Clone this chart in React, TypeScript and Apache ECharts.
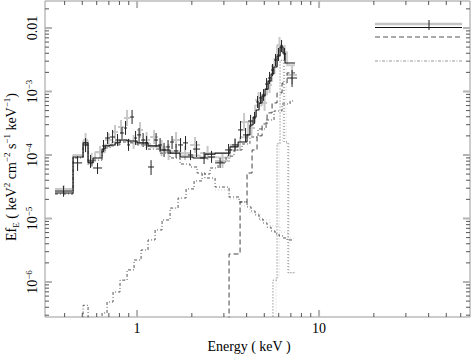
import React, { useEffect, useRef } from "react";
import * as echarts from "echarts";

const FONT = "'Liberation Serif', 'Times New Roman', serif";

// Axis ranges: Energy (keV), EfE (keV^2 cm^-2 s^-1 keV^-1)
const xRange = [0.312, 67.5];
const yRange = [2.81e-7, 2.66e-2];

// Tick values
const xMajorTicks = [1, 10];
const xMinorTicks = [0.4, 0.5, 0.6, 0.7, 0.8, 0.9, 2, 3, 4, 5, 6, 7, 8, 9, 20, 30, 40, 50, 60];
const yMajorTicks = [1e-6, 1e-5, 1e-4, 1e-3, 1e-2];
const yMinorTicks = [
  3e-7, 4e-7, 5e-7, 6e-7, 7e-7, 8e-7, 9e-7,
  2e-6, 3e-6, 4e-6, 5e-6, 6e-6, 7e-6, 8e-6, 9e-6,
  2e-5, 3e-5, 4e-5, 5e-5, 6e-5, 7e-5, 8e-5, 9e-5,
  2e-4, 3e-4, 4e-4, 5e-4, 6e-4, 7e-4, 8e-4, 9e-4,
  2e-3, 3e-3, 4e-3, 5e-3, 6e-3, 7e-3, 8e-3, 9e-3,
  2e-2,
];
const xLabelValues = [1, 10];
const xLabelTexts = ["1", "10"];
const yLabelValues = [1e-2, 1e-3, 1e-4, 1e-5, 1e-6];
const yLabelBases = ["0.01", "10", "10", "10", "10"];
const yLabelExps = ["", "−3", "−4", "−5", "−6"];

// Data rows: [E_lo, E_hi, flux, flux_lo, flux_hi]
const blackData = [
  [0.354, 0.440, 2.7e-5, 2.2e-5, 3.25e-5],
  [0.445, 0.499, 7.5e-5, 5.6e-5, 9.6e-5],
  [0.505, 0.538, 1.44e-4, 1.11e-4, 1.85e-4],
  [0.538, 0.573, 8.05e-5, 6.24e-5, 1.0e-4],
  [0.573, 0.642, 6.24e-5, 5.02e-5, 7.5e-5],
  [0.642, 0.667, 1.39e-4, 1.11e-4, 1.72e-4],
  [0.667, 0.711, 1.85e-4, 1.49e-4, 2.30e-4],
  [0.711, 0.757, 1.92e-4, 1.55e-4, 2.48e-4],
  [0.757, 0.806, 1.72e-4, 1.39e-4, 2.14e-4],
  [0.806, 0.848, 2.22e-4, 1.79e-4, 2.76e-4],
  [0.848, 0.881, 2.66e-4, 2.07e-4, 3.43e-4],
  [0.881, 0.915, 1.44e-4, 1.16e-4, 1.79e-4],
  [0.915, 0.963, 3.96e-4, 3.08e-4, 5.12e-4],
  [0.963, 1.0, 1.85e-4, 1.44e-4, 2.39e-4],
  [1.0, 1.052, 2.07e-4, 1.60e-4, 2.66e-4],
  [1.052, 1.107, 1.72e-4, 1.34e-4, 2.22e-4],
  [1.107, 1.149, 1.55e-4, 1.20e-4, 1.99e-4],
  [1.149, 1.240, 6.47e-5, 4.84e-5, 8.3e-5],
  [1.240, 1.305, 1.72e-4, 1.34e-4, 2.22e-4],
  [1.305, 1.372, 1.44e-4, 1.11e-4, 1.85e-4],
  [1.372, 1.443, 1.20e-4, 9.3e-5, 1.55e-4],
  [1.443, 1.518, 1.34e-4, 1.04e-4, 1.72e-4],
  [1.518, 1.597, 1.60e-4, 1.24e-4, 1.99e-4],
  [1.597, 1.680, 1.16e-4, 9.0e-5, 1.49e-4],
  [1.680, 1.789, 1.44e-4, 1.11e-4, 1.85e-4],
  [1.789, 1.906, 1.55e-4, 1.20e-4, 1.99e-4],
  [1.906, 2.031, 1.0e-4, 8.3e-5, 1.20e-4],
  [2.031, 2.219, 1.24e-4, 9.3e-5, 1.66e-4],
  [2.219, 2.455, 8.97e-5, 7.2e-5, 1.11e-4],
  [2.455, 2.683, 9.3e-5, 7.5e-5, 1.16e-4],
  [2.683, 3.045, 7.5e-5, 6.24e-5, 9.0e-5],
  [3.045, 3.327, 1.20e-4, 9.6e-5, 1.49e-4],
  [3.327, 3.588, 1.44e-4, 1.16e-4, 1.79e-4],
  [3.588, 3.823, 2.48e-4, 1.79e-4, 3.43e-4],
  [3.823, 4.074, 2.07e-4, 1.60e-4, 2.66e-4],
  [4.074, 4.339, 3.43e-4, 2.76e-4, 4.27e-4],
  [4.339, 4.507, 3.83e-4, 3.08e-4, 4.75e-4],
  [4.507, 4.681, 6.84e-4, 5.50e-4, 8.5e-4],
  [4.681, 4.863, 7.91e-4, 6.36e-4, 9.82e-4],
  [4.863, 5.050, 8.81e-4, 7.09e-4, 1.09e-3],
  [5.050, 5.246, 1.31e-3, 1.06e-3, 1.63e-3],
  [5.246, 5.448, 1.63e-3, 1.31e-3, 2.03e-3],
  [5.448, 5.657, 2.18e-3, 1.75e-3, 2.71e-3],
  [5.657, 5.876, 3.13e-3, 2.52e-3, 3.90e-3],
  [5.876, 6.105, 3.76e-3, 3.02e-3, 4.84e-3],
  [6.105, 6.341, 5.21e-3, 4.19e-3, 6.47e-3],
  [6.341, 6.588, 3.90e-3, 3.13e-3, 4.84e-3],
  [6.672, 7.570, 1.63e-3, 1.18e-3, 2.18e-3],
];

const greyData = [
  [0.354, 0.440, 2.92e-5, 2.52e-5, 3.37e-5],
  [0.505, 0.538, 1.72e-4, 1.34e-4, 2.22e-4],
  [0.538, 0.588, 8.3e-5, 6.47e-5, 1.07e-4],
  [0.588, 0.667, 1.11e-4, 8.97e-5, 1.39e-4],
  [0.667, 0.729, 1.72e-4, 1.34e-4, 2.22e-4],
  [0.729, 0.786, 2.30e-4, 1.79e-4, 2.97e-4],
  [0.786, 0.848, 2.76e-4, 2.14e-4, 3.56e-4],
  [0.848, 0.915, 3.83e-4, 2.86e-4, 5.12e-4],
  [0.915, 1.0, 1.60e-4, 1.24e-4, 2.07e-4],
  [1.0, 1.079, 2.48e-4, 1.85e-4, 3.31e-4],
  [1.079, 1.179, 1.72e-4, 1.29e-4, 2.30e-4],
  [1.179, 1.305, 1.92e-4, 1.49e-4, 2.48e-4],
  [1.305, 1.425, 1.29e-4, 9.6e-5, 1.72e-4],
  [1.425, 1.557, 1.11e-4, 8.3e-5, 1.49e-4],
  [1.557, 1.723, 1.72e-4, 1.29e-4, 2.30e-4],
  [1.723, 1.955, 1.07e-4, 8.3e-5, 1.39e-4],
  [1.955, 2.219, 1.44e-4, 1.07e-4, 1.92e-4],
  [2.219, 2.683, 1.07e-4, 8.3e-5, 1.39e-4],
  [2.683, 3.24, 8.05e-5, 6.24e-5, 1.04e-4],
  [3.24, 3.681, 1.44e-4, 1.11e-4, 1.85e-4],
  [3.681, 4.074, 3.31e-4, 2.39e-4, 4.59e-4],
  [4.074, 4.45, 2.66e-4, 2.0e-4, 3.56e-4],
  [4.45, 4.863, 7.3e-4, 5.5e-4, 9.8e-4],
  [4.863, 5.18, 6.6e-4, 4.93e-4, 8.8e-4],
  [5.18, 5.518, 1.27e-3, 9.46e-4, 1.69e-3],
  [5.518, 5.876, 2.52e-3, 1.89e-3, 3.37e-3],
  [5.876, 6.261, 5.40e-3, 4.04e-3, 7.21e-3],
  [6.261, 6.672, 4.04e-3, 3.02e-3, 5.40e-3],
  [6.672, 7.57, 1.82e-3, 1.31e-3, 2.52e-3],
];

// Total model (black dataset): bin edges and values
const blackModelEdges = [0.354, 0.445, 0.505, 0.538, 0.573, 0.642, 0.667, 0.711, 0.757, 0.806, 0.881, 1.0, 1.149, 1.338, 1.518, 1.723, 2.031, 2.36, 2.683, 3.24, 3.59, 4.02, 4.17, 4.34, 4.51, 4.68, 4.86, 5.05, 5.25, 5.45, 5.64, 5.88, 6.11, 6.34, 6.50, 7.38];
const blackModelValues = [2.52e-5, 9.3e-5, 1.55e-4, 7.5e-5, 8.97e-5, 1.24e-4, 1.39e-4, 1.44e-4, 1.55e-4, 1.72e-4, 1.66e-4, 1.55e-4, 1.39e-4, 1.20e-4, 1.07e-4, 9.3e-5, 8.97e-5, 1.03e-4, 1.07e-4, 1.34e-4, 1.60e-4, 2.07e-4, 2.97e-4, 3.96e-4, 5.1e-4, 6.6e-4, 8.5e-4, 1.09e-3, 1.46e-3, 1.89e-3, 2.43e-3, 3.62e-3, 5.02e-3, 4.04e-3, 2.81e-3];

// Total model (grey dataset)
const greyModelEdges = [0.354, 0.445, 0.505, 0.538, 0.588, 0.667, 0.729, 0.786, 0.848, 0.915, 1.0, 1.179, 1.425, 1.723, 2.219, 2.683, 3.24, 3.681, 4.074, 4.45, 4.863, 5.18, 5.518, 5.876, 6.261, 6.672, 7.38];
const greyModelValues = [2.8e-5, 1.0e-4, 1.66e-4, 8.0e-5, 1.1e-4, 1.45e-4, 1.6e-4, 1.7e-4, 1.72e-4, 1.62e-4, 1.52e-4, 1.35e-4, 1.15e-4, 9.8e-5, 9.2e-5, 9.0e-5, 1.2e-4, 1.9e-4, 3.3e-4, 6.0e-4, 9.0e-4, 1.45e-3, 2.6e-3, 5.3e-3, 4.2e-3, 2.6e-3];

// Soft component (dash-dot)
const softEdges = [0.354, 0.445, 0.505, 0.538, 0.573, 0.642, 0.667, 0.711, 0.757, 0.806, 0.881, 1.0, 1.149, 1.338, 1.518, 1.723, 1.955, 2.136, 2.36, 2.683, 3.203, 3.635, 4.02, 4.231, 4.45, 4.68, 4.923, 5.18, 5.448, 5.73, 6.028, 6.341, 6.672, 7.197];
const softValues = [2.43e-5, 8.97e-5, 1.44e-4, 6.97e-5, 8.3e-5, 1.16e-4, 1.29e-4, 1.39e-4, 1.44e-4, 1.60e-4, 1.55e-4, 1.44e-4, 1.24e-4, 1.07e-4, 8.97e-5, 7.2e-5, 6.47e-5, 5.2e-5, 4.34e-5, 3.13e-5, 2.18e-5, 1.82e-5, 1.52e-5, 1.31e-5, 1.14e-5, 9.8e-6, 8.5e-6, 7.3e-6, 6.36e-6, 5.7e-6, 5.3e-6, 4.93e-6, 4.59e-6];

// Rising (absorbed) component (dash-dot)
const risingEdges = [0.445, 0.505, 0.538, 0.642, 0.684, 0.738, 0.806, 0.881, 0.963, 1.052, 1.149, 1.256, 1.372, 1.518, 1.680, 1.859, 2.057, 2.276, 2.518, 2.787, 3.083, 3.412, 3.776, 4.17, 4.622, 5.114, 5.657, 6.261, 6.93, 7.38];
const risingValues = [1e-9, 4.3e-7, 1e-9, 3.25e-7, 4.84e-7, 6.96e-7, 1.07e-6, 1.55e-6, 2.22e-6, 3.19e-6, 4.59e-6, 6.6e-6, 9.47e-6, 1.46e-5, 2.1e-5, 2.92e-5, 3.9e-5, 5.02e-5, 6.24e-5, 7.76e-5, 9.6e-5, 1.2e-4, 1.49e-4, 1.92e-4, 2.57e-4, 3.56e-4, 4.93e-4, 6.36e-4, 7.09e-4];

// Hard component (dashed)
const hardEdges = [2.858, 3.203, 3.681, 4.02, 4.284, 4.563, 4.863, 5.18, 5.518, 5.876, 6.261, 6.672, 7.38];
const hardValues = [1e-9, 2.76e-6, 1.82e-5, 5.2e-5, 1.2e-4, 2.0e-4, 3.08e-4, 4.6e-4, 6.6e-4, 9.5e-4, 1.36e-3, 1.96e-3];

// Fe line (dotted), black and grey datasets
const lineEdges = [5.38, 5.58, 5.876, 6.105, 6.422, 6.755, 7.38];
const lineValues = [1e-9, 1.07e-6, 1.5e-4, 3.1e-3, 1.6e-4, 1.4e-6];
const greyLineEdges = [5.518, 5.80, 6.028, 6.341, 6.588, 6.841, 7.197];
const greyLineValues = [1e-9, 1.2e-6, 1.7e-4, 3.3e-3, 1.5e-4, 1.39e-6];

// Grey soft tail
const greySoftEdges = [2.683, 3.203, 3.681, 4.17, 4.74, 5.38, 6.105, 6.755, 7.38];
const greySoftValues = [2.81e-5, 2.03e-5, 1.57e-5, 1.22e-5, 9.47e-6, 7.62e-6, 6.1e-6, 4.93e-6];

const lg = (v: number) => Math.log10(v);

function stepPoints(edges: number[], vals: number[]) {
  const pts: number[][] = [];
  for (let i = 0; i < vals.length; i++) {
    pts.push([lg(edges[i]), lg(vals[i])]);
    pts.push([lg(edges[i + 1]), lg(vals[i])]);
  }
  return pts;
}

function stepSeries(edges: number[], vals: number[], color: string, width: number, type: any, z: number) {
  return {
    type: "line",
    data: stepPoints(edges, vals),
    symbol: "none",
    showSymbol: false,
    clip: true,
    silent: true,
    z,
    lineStyle: { color, width, type },
  };
}

function crossSeries(rows: number[][], color: string, width: number, z: number) {
  return {
    type: "custom",
    z,
    silent: true,
    clip: true,
    data: rows.map((r) => r.map(lg)),
    encode: { x: [0, 1], y: [2, 3, 4] },
    renderItem: (_params: any, api: any) => {
      const x0 = api.value(0), x1 = api.value(1), f = api.value(2), lo = api.value(3), hi = api.value(4);
      const xm = (x0 + x1) / 2;
      const a = api.coord([x0, f]);
      const b = api.coord([x1, f]);
      const c = api.coord([xm, lo]);
      const d = api.coord([xm, hi]);
      return {
        type: "group",
        children: [
          { type: "line", shape: { x1: a[0], y1: a[1], x2: b[0], y2: b[1] }, style: { stroke: color, lineWidth: width } },
          { type: "line", shape: { x1: c[0], y1: c[1], x2: d[0], y2: d[1] }, style: { stroke: color, lineWidth: width } },
        ],
      };
    },
  };
}

const frameSeries = {
  type: "custom",
  z: 20,
  silent: true,
  clip: false,
  data: [[lg(xRange[0]), lg(yRange[0])]],
  encode: { x: 0, y: 1 },
  renderItem: (params: any, api: any) => {
    const cs = params.coordSys;
    const L = cs.x, T = cs.y, R = cs.x + cs.width, B = cs.y + cs.height;
    const ch: any[] = [];
    const tick = (x1: number, y1: number, x2: number, y2: number, major: boolean) =>
      ch.push({ type: "line", shape: { x1, y1, x2, y2 }, style: { stroke: major ? "#b4b4b4" : "#555", lineWidth: major ? 2 : 1 } });
    xMinorTicks.forEach((v) => {
      const px = api.coord([lg(v), lg(yRange[0])])[0];
      tick(px, B, px, B - 4, false);
      tick(px, T, px, T + 4, false);
    });
    xMajorTicks.forEach((v) => {
      const px = api.coord([lg(v), lg(yRange[0])])[0];
      tick(px, B, px, B - 7, true);
      tick(px, T, px, T + 7, true);
    });
    yMinorTicks.forEach((v) => {
      const py = api.coord([lg(xRange[0]), lg(v)])[1];
      tick(L, py, L + 4, py, false);
      tick(R, py, R - 4, py, false);
    });
    yMajorTicks.forEach((v) => {
      const py = api.coord([lg(xRange[0]), lg(v)])[1];
      tick(L, py, L + 7, py, true);
      tick(R, py, R - 7, py, true);
    });
    xLabelValues.forEach((v, i) => {
      const px = api.coord([lg(v), lg(yRange[0])])[0];
      ch.push({
        type: "text",
        x: px,
        y: B + 4,
        style: { text: xLabelTexts[i], fill: "#000", font: `14px ${FONT}`, align: "center", verticalAlign: "top" },
      });
    });
    yLabelValues.forEach((v, i) => {
      const py = api.coord([lg(xRange[0]), lg(v)])[1];
      const exp = yLabelExps[i];
      ch.push({
        type: "text",
        x: L - 13,
        y: py,
        rotation: Math.PI / 2,
        style: exp
          ? {
              text: `{b|${yLabelBases[i]}}{s|${exp}}`,
              align: "center",
              verticalAlign: "middle",
              rich: {
                b: { fontSize: 14, fontFamily: FONT, fill: "#000", lineHeight: 15 },
                s: { fontSize: 9, fontFamily: FONT, fill: "#000", verticalAlign: "top", lineHeight: 10 },
              },
            }
          : { text: yLabelBases[i], fill: "#000", font: `14px ${FONT}`, align: "center", verticalAlign: "middle" },
      });
    });
    return { type: "group", children: ch };
  },
};

export default function App() {
  const ref = useRef<HTMLDivElement>(null);
  useEffect(() => {
    if (!ref.current) return;
    const chart = echarts.init(ref.current, null, { renderer: "svg" });
    const option: any = {
      animation: false,
      backgroundColor: "#fff",
      grid: { left: 45, right: 2, top: 1, bottom: 37, show: true, borderColor: "#999", borderWidth: 1, containLabel: false },
      xAxis: { type: "value", min: lg(xRange[0]), max: lg(xRange[1]), show: false },
      yAxis: { type: "value", min: lg(yRange[0]), max: lg(yRange[1]), show: false },
      series: [
        stepSeries(greyModelEdges, greyModelValues, "#cccccc", 2, "solid", 2),
        stepSeries(greySoftEdges, greySoftValues, "#cfcfcf", 1, [1, 2], 2),
        stepSeries(greyLineEdges, greyLineValues, "#cfcfcf", 1, [1, 2], 2),
        crossSeries(greyData, "#c8c8c8", 2, 3),
        stepSeries(softEdges, softValues, "#555", 1, [3, 2, 1, 2], 4),
        stepSeries(risingEdges, risingValues, "#555", 1, [3, 2, 1, 2], 4),
        stepSeries(hardEdges, hardValues, "#444", 1, [5, 3], 4),
        stepSeries(lineEdges, lineValues, "#666", 1, [1, 2], 4),
        stepSeries(blackModelEdges, blackModelValues, "#111", 1.1, "solid", 5),
        crossSeries(blackData, "#222", 1, 6),
        frameSeries,
      ],
      graphic: [
        { type: "line", shape: { x1: 375, y1: 24, x2: 462, y2: 24 }, style: { stroke: "#c4c4c4", lineWidth: 2.5 } },
        { type: "line", shape: { x1: 375, y1: 27.5, x2: 462, y2: 27.5 }, style: { stroke: "#111", lineWidth: 1.2 } },
        { type: "line", shape: { x1: 429, y1: 20, x2: 429, y2: 30 }, style: { stroke: "#222", lineWidth: 1 } },
        { type: "line", shape: { x1: 375, y1: 37, x2: 462, y2: 37 }, style: { stroke: "#555", lineWidth: 1.2, lineDash: [5, 3] } },
        { type: "line", shape: { x1: 375, y1: 61, x2: 462, y2: 61 }, style: { stroke: "#999", lineWidth: 1.2, lineDash: [3, 1.5, 1, 1.5] } },
        {
          type: "text",
          x: 249,
          y: 346,
          style: { text: "Energy ( keV )", fill: "#000", font: `14px ${FONT}`, align: "center", verticalAlign: "middle" },
        },
        {
          type: "text",
          x: 11,
          y: 167,
          rotation: Math.PI / 2,
          style: {
            text: "{n|Ef}{sub|E}{n| ( keV}{sup|2}{n| cm}{sup|−2}{n| s}{sup|−1}{n| keV}{sup|−1}{n|)}",
            align: "center",
            verticalAlign: "middle",
            rich: {
              n: { fontSize: 14, fontFamily: FONT, fill: "#000", lineHeight: 18 },
              sup: { fontSize: 9, fontFamily: FONT, fill: "#000", verticalAlign: "top", lineHeight: 10 },
              sub: { fontSize: 9, fontFamily: FONT, fill: "#000", verticalAlign: "bottom", lineHeight: 10 },
            },
          },
        },
      ],
    };
    chart.setOption(option);
    return () => chart.dispose();
  }, []);
  return <div ref={ref} style={{ position: "absolute", left: 0, top: 0, width: 472, height: 354 }} />;
}
